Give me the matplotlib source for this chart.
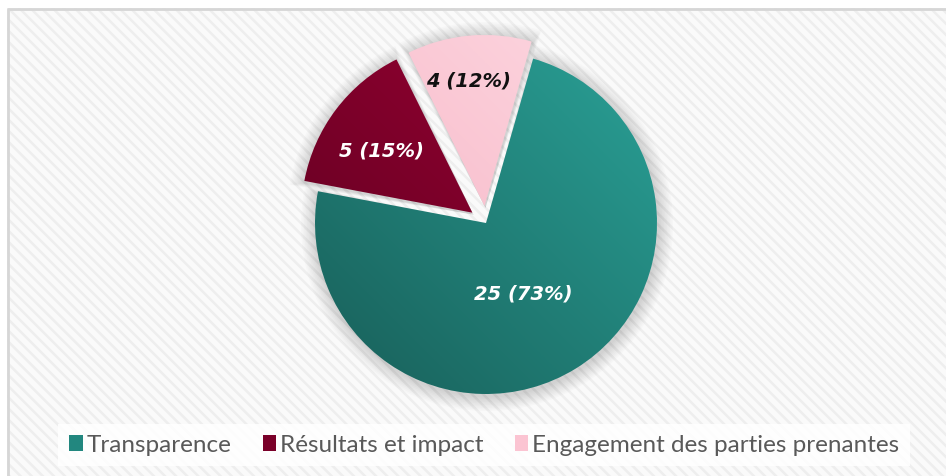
import numpy as np
import matplotlib
matplotlib.use("Agg")
import matplotlib.pyplot as plt
from matplotlib.patches import Rectangle, Wedge
from matplotlib.colors import LinearSegmentedColormap

# Data
categories = ["Transparence", "Résultats et impact", "Engagement des parties prenantes"]
counts = [25, 5, 4]
pct_labels = [73, 15, 12]
explode_frac = [0, 0.1, 0.1]

# gradient colours per slice: (dark / bottom-left, light / top-right)
grad_colors = [("#185e58", "#2aa197"), ("#5c001f", "#a00035"), ("#f6afc1", "#fdd9e2")]
legend_colors = ["#22877f", "#7a0029", "#fbc4d2"]
label_colors = ["white", "white", "#111111"]
label_dist = [0.46, 0.64, 0.76]

plt.rcParams["hatch.linewidth"] = 1.8
plt.rcParams["hatch.color"] = "#eeeeee"

W, H = 946, 477
fig = plt.figure(figsize=(W / 100, H / 100), dpi=100)
fig.patch.set_facecolor("white")
ax = fig.add_axes([0, 0, 1, 1])
ax.set_facecolor("white")

# hatched background with light border
bg = Rectangle((7, -5), W + 10, H - 9 + 5, facecolor="#fafafa", edgecolor="#eeeeee",
               hatch="\\\\\\", linewidth=0, zorder=0)
ax.add_patch(bg)
ax.plot([7.5, 7.5, W + 5], [-5, H - 9.5, H - 9.5], color="#d6d6d6", lw=2, zorder=1)

cx, cy, R = 486, H - 224, 171
wedges, _ = ax.pie(counts, explode=[e * R for e in explode_frac], startangle=74,
                   counterclock=False, center=(cx, cy), radius=R, frame=True,
                   wedgeprops=dict(linewidth=0, zorder=3))

# soft shadow behind each slice
for w in wedges:
    (wx, wy), r, t1, t2 = w.center, w.r, w.theta1, w.theta2
    for k in range(10, 0, -1):
        grow = k * 1.5
        sh = Wedge((wx + 1, wy - 2), r + grow, t1 - grow * 0.1, t2 + grow * 0.1,
                   facecolor="#000000", alpha=0.015, linewidth=0, zorder=2)
        ax.add_patch(sh)

# gradient fill clipped to each slice
gx = np.linspace(0, 1, 200)
grad = (gx[None, :] + gx[::-1][:, None]) / 2
for w, (c0, c1) in zip(wedges, grad_colors):
    w.set_facecolor("none")
    cmap = LinearSegmentedColormap.from_list("g", [c0, c1])
    (wx, wy), r = w.center, w.r
    im = ax.imshow(grad, cmap=cmap, extent=(wx - r, wx + r, wy - r, wy + r),
                   origin="upper", zorder=4, interpolation="bilinear")
    im.set_clip_path(w)

# labels
for w, n, p, col, d in zip(wedges, counts, pct_labels, label_colors, label_dist):
    mid = np.deg2rad((w.theta1 + w.theta2) / 2)
    (wx, wy), r = w.center, w.r
    ax.text(wx + d * r * np.cos(mid) - 4, wy + d * r * np.sin(mid) - 3, f"{n} ({p}%)",
            color=col, fontsize=14, fontweight="bold", fontstyle="italic",
            ha="center", va="center", zorder=6, family="DejaVu Sans")

ax.set_xlim(0, W)
ax.set_ylim(0, H)
ax.set_aspect("equal")
ax.axis("off")

# legend
handles = [Rectangle((0, 0), 1, 1, facecolor=c, edgecolor="none") for c in legend_colors]
leg = ax.legend(handles, categories, loc="center", bbox_to_anchor=(484 / W, 1 - 446 / H),
                ncol=3, frameon=True, fancybox=False,
                handlelength=0.55, handleheight=0.6, handletextpad=0.15,
                columnspacing=1.3, borderpad=0.45,
                prop={"family": "Lato", "size": 17.5})
leg.get_frame().set_facecolor("white")
leg.get_frame().set_edgecolor("none")
leg.get_frame().set_alpha(0.85)
for t in leg.get_texts():
    t.set_color("#595959")

fig.savefig("out.png", dpi=100)
